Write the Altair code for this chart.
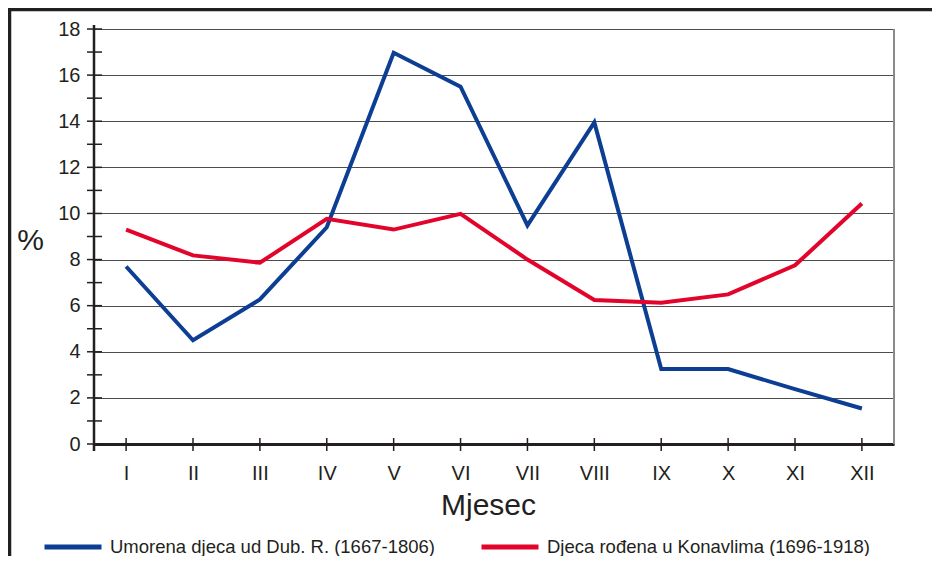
import altair as alt
import pandas as pd

months = ["I", "II", "III", "IV", "V", "VI", "VII", "VIII", "IX", "X", "XI", "XII"]
series_a = "Umorena djeca ud Dub. R. (1667-1806)"
series_b = "Djeca rođena u Konavlima (1696-1918)"
values_a = [7.7, 4.5, 6.27, 9.4, 16.97, 15.5, 9.48, 13.95, 3.25, 3.25, 2.38, 1.54]
values_b = [9.3, 8.18, 7.86, 9.77, 9.3, 9.98, 8.0, 6.25, 6.13, 6.49, 7.75, 10.43]
y_tick_values = list(range(0, 19))
y_label_values = list(range(0, 19, 2))
colors = ["#0c3e93", "#e3042c"]

FONT = "Liberation Sans, Arial, Helvetica, sans-serif"
INK = "#231f20"
W, H = 800, 415

df = pd.DataFrame({
    "month": months * 2,
    "value": values_a + values_b,
    "series": [series_a] * len(months) + [series_b] * len(months),
})
ytick_df = pd.DataFrame({"value": y_tick_values})
xtick_df = pd.DataFrame({"month": months})
one = pd.DataFrame({"k": [0]})

x_scale = alt.Scale(type="point", padding=0.48)
y_scale = alt.Scale(domain=[0, 18], nice=False, zero=True)

x_axis = alt.Axis(domain=True, domainColor=INK, domainWidth=3, ticks=False, tickSize=0,
                  labelFont=FONT, labelFontSize=20, labelColor=INK, labelAngle=0,
                  labelBaseline="alphabetic", labelPadding=35, grid=False,
                  title="Mjesec", titleFont=FONT, titleFontSize=30, titleFontWeight="normal",
                  titleColor=INK, titleX=394, titleY=70, titleAlign="center",
                  titleBaseline="alphabetic")
y_axis = alt.Axis(values=y_label_values, domain=False, ticks=False, tickSize=0,
                  labelFont=FONT, labelFontSize=20, labelColor=INK, labelPadding=14,
                  grid=True, gridColor="#4d4d4d", gridWidth=1,
                  title="%", titleFont=FONT, titleFontSize=30, titleFontWeight="normal",
                  titleColor=INK, titleAngle=0, titleX=-64, titleY=211.5,
                  titleAlign="center", titleBaseline="middle")

lines = alt.Chart(df).mark_line(strokeWidth=4, strokeJoin="miter", strokeCap="butt").encode(
    x=alt.X("month:O", sort=months, scale=x_scale, axis=x_axis),
    y=alt.Y("value:Q", scale=y_scale, axis=y_axis),
    color=alt.Color("series:N",
                    scale=alt.Scale(domain=[series_a, series_b], range=colors),
                    legend=alt.Legend(title=None, orient="none", legendX=-52, legendY=487,
                                      direction="horizontal", symbolType="stroke",
                                      symbolSize=3249, symbolStrokeWidth=5,
                                      labelFont=FONT, labelFontSize=18.5, labelColor=INK,
                                      labelLimit=600, labelOffset=6, columnPadding=36)),
    order=alt.Order("series:N"),
)

yticks = alt.Chart(ytick_df).mark_rule(color=INK, strokeWidth=1.5).encode(
    y=alt.Y("value:Q", scale=y_scale, axis=y_axis),
    x=alt.value(-7), x2=alt.value(8),
)
xticks = alt.Chart(xtick_df).mark_rule(color=INK, strokeWidth=1.5).encode(
    x=alt.X("month:O", sort=months, scale=x_scale, axis=x_axis),
    y=alt.value(H - 6), y2=alt.value(H + 7),
)
yaxis_line = alt.Chart(one).mark_rule(color=INK, strokeWidth=2.5).encode(
    x=alt.value(0), y=alt.value(-4), y2=alt.value(H + 7))
right_border = alt.Chart(one).mark_rule(color="#8a8a8a", strokeWidth=2).encode(
    x=alt.value(W), y=alt.value(0), y2=alt.value(H))
frame_top = alt.Chart(one).mark_rule(color=INK, strokeWidth=3.5).encode(
    x=alt.value(-86), x2=alt.value(W + 38), y=alt.value(-19.5))
frame_left = alt.Chart(one).mark_rule(color=INK, strokeWidth=3.5).encode(
    x=alt.value(-84.5), y=alt.value(-21), y2=alt.value(H + 112))

chart = alt.layer(
    lines, right_border, yticks, xticks, yaxis_line, frame_top, frame_left
).properties(
    width=W, height=H,
    autosize=alt.AutoSizeParams(type="none"),
    padding={"left": 86, "top": 21, "right": 38, "bottom": 112},
    background="white",
).configure_view(stroke=None)

chart.save("out.html", embed_options={"renderer": "svg", "actions": False})
